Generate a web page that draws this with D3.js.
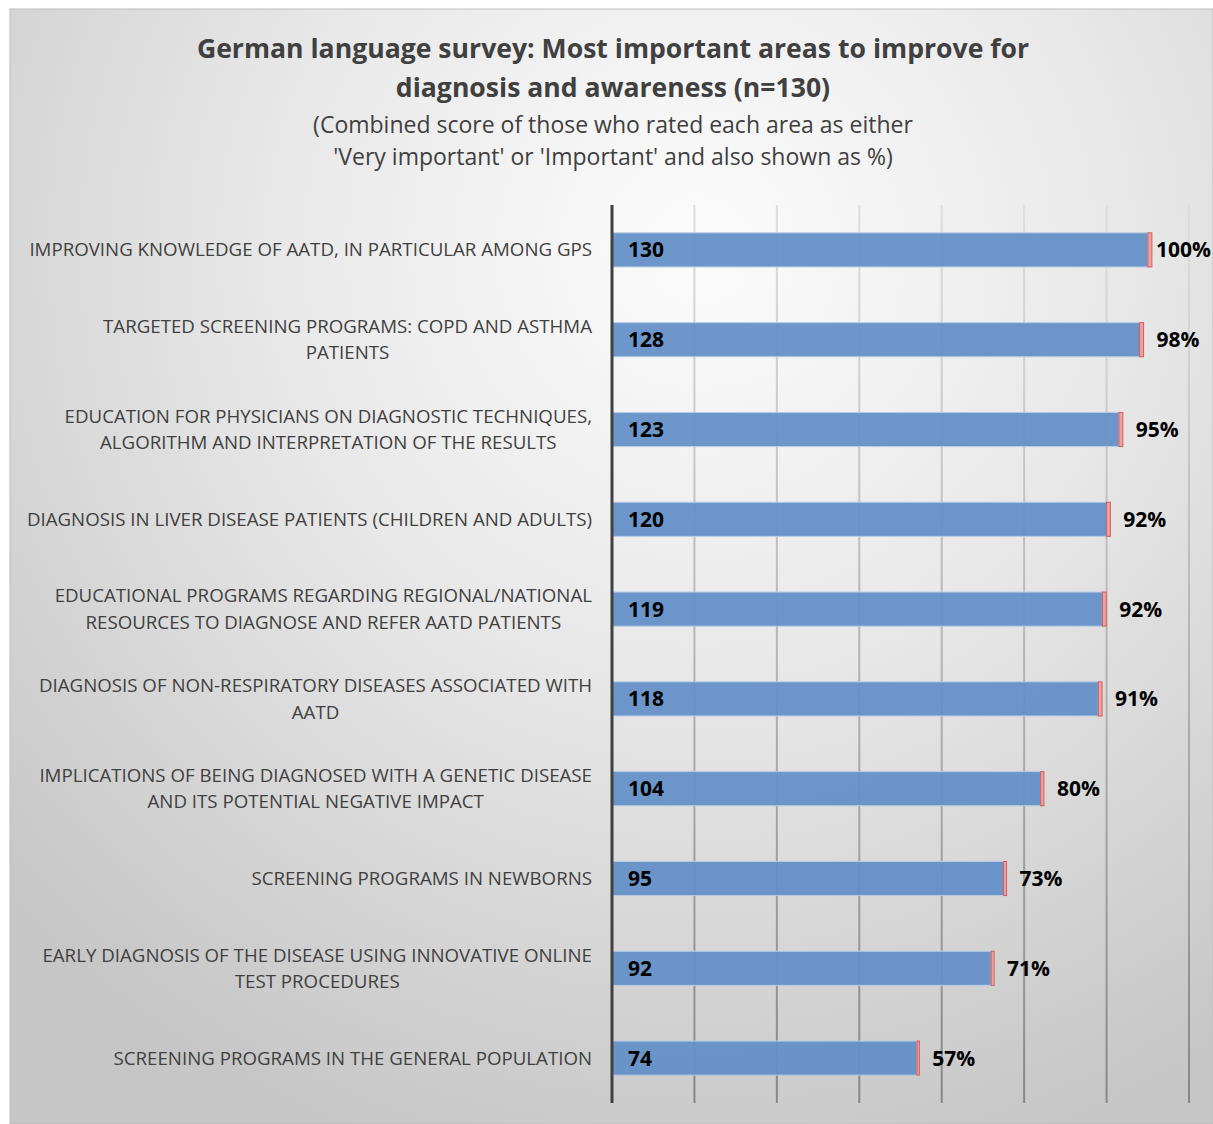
<!DOCTYPE html>
<html>
<head>
<meta charset="utf-8">
<script src="https://cdn.jsdelivr.net/npm/d3@7"></script>
<style>
  html, body { margin: 0; padding: 0; background: #ffffff; }
  svg { display: block; }
  text { font-family: "Open Sans", Lato, sans-serif; }
</style>
</head>
<body>
<svg id="chart" width="1213" height="1124"></svg>
<script>
// Survey areas (line breaks mark wrapped labels)
const categories = [
  "IMPROVING KNOWLEDGE OF AATD, IN PARTICULAR AMONG GPS",
  "TARGETED SCREENING PROGRAMS: COPD AND ASTHMA\nPATIENTS",
  "EDUCATION FOR PHYSICIANS ON DIAGNOSTIC TECHNIQUES,\nALGORITHM AND INTERPRETATION OF THE RESULTS",
  "DIAGNOSIS IN LIVER DISEASE PATIENTS (CHILDREN AND ADULTS)",
  "EDUCATIONAL PROGRAMS REGARDING REGIONAL/NATIONAL\nRESOURCES TO DIAGNOSE AND REFER AATD PATIENTS",
  "DIAGNOSIS OF NON-RESPIRATORY DISEASES ASSOCIATED WITH\nAATD",
  "IMPLICATIONS OF BEING DIAGNOSED WITH A GENETIC DISEASE\nAND ITS POTENTIAL NEGATIVE IMPACT",
  "SCREENING PROGRAMS IN NEWBORNS",
  "EARLY DIAGNOSIS OF THE DISEASE USING INNOVATIVE ONLINE\nTEST PROCEDURES",
  "SCREENING PROGRAMS IN THE GENERAL POPULATION"
];
// Respondents rating "Very important" or "Important"
const counts = [130, 128, 123, 120, 119, 118, 104, 95, 92, 74];
// Same score shown as percentage
const percents = [100, 98, 95, 92, 92, 91, 80, 73, 71, 57];
const xTicks = [0, 20, 40, 60, 80, 100, 120, 140];

const titleLines = [
  "German language survey: Most important areas to improve for",
  "diagnosis and awareness (n=130)"
];
const subtitleLines = [
  "(Combined score of those who rated each area as either",
  "'Very important' or 'Important' and also shown as %)"
];

const svg = d3.select("#chart");
const W = 1213, H = 1124;

const defs = svg.append("defs");
const bg = defs.append("radialGradient")
  .attr("id", "bg").attr("gradientUnits", "userSpaceOnUse")
  .attr("cx", 700).attr("cy", 250).attr("r", 950);
bg.append("stop").attr("offset", 0).attr("stop-color", "#fcfcfc");
bg.append("stop").attr("offset", 0.45).attr("stop-color", "#e8e8e8");
bg.append("stop").attr("offset", 1).attr("stop-color", "#c6c6c6");

const plot = { left: 612, right: 1189, top: 205, bottom: 1103 };

const grid = defs.append("linearGradient")
  .attr("id", "grid").attr("gradientUnits", "userSpaceOnUse")
  .attr("x1", 0).attr("y1", plot.top).attr("x2", 0).attr("y2", plot.bottom);
grid.append("stop").attr("offset", 0).attr("stop-color", "#dedede");
grid.append("stop").attr("offset", 0.5).attr("stop-color", "#b4b4b4");
grid.append("stop").attr("offset", 1).attr("stop-color", "#878787");

// Chart area background
svg.append("rect")
  .attr("x", 10).attr("y", 9).attr("width", W - 10).attr("height", H - 9)
  .attr("fill", "url(#bg)")
  .attr("stroke", "#bdbdbd").attr("stroke-width", 1);

// Title and subtitle
const cx = 613;
svg.append("g").selectAll("text").data(titleLines).join("text")
  .attr("x", cx).attr("y", (d, i) => 58 + i * 39)
  .attr("text-anchor", "middle")
  .attr("font-size", 26.6).attr("font-weight", "bold").attr("fill", "#404040")
  .text(d => d);
svg.append("g").selectAll("text").data(subtitleLines).join("text")
  .attr("x", cx).attr("y", (d, i) => 133 + i * 32)
  .attr("text-anchor", "middle")
  .attr("font-size", 23).attr("fill", "#404040")
  .text(d => d);

// Scales
const x = d3.scaleLinear().domain([0, 140]).range([plot.left, plot.right]);
const y = d3.scaleBand().domain(categories).range([plot.top, plot.bottom])
  .paddingInner(0.62).paddingOuter(0.31);

// Vertical gridlines
svg.append("g").selectAll("line").data(xTicks.filter(t => t > 0)).join("line")
  .attr("x1", d => x(d)).attr("x2", d => x(d))
  .attr("y1", plot.top).attr("y2", plot.bottom)
  .attr("stroke", "url(#grid)").attr("stroke-width", 2);

// Bars: count segment plus a thin percentage segment stacked on the end
const rows = categories.map((c, i) => ({ c, n: counts[i], p: percents[i] }));
const bars = svg.append("g");
bars.selectAll("rect.count").data(rows).join("rect")
  .attr("class", "count")
  .attr("x", x(0)).attr("y", d => y(d.c))
  .attr("width", d => x(d.n) - x(0)).attr("height", y.bandwidth())
  .attr("fill", "#6490c7").attr("fill-opacity", 0.94)
  .attr("stroke", "#b9cde6").attr("stroke-width", 1);
bars.selectAll("rect.pct").data(rows).join("rect")
  .attr("class", "pct")
  .attr("x", d => x(d.n)).attr("y", d => y(d.c))
  .attr("width", d => x(d.n + d.p / 100) - x(d.n)).attr("height", y.bandwidth())
  .attr("fill", "#e8a3a3")
  .attr("stroke", "#d75c5c").attr("stroke-width", 1);

// Value labels inside bars
svg.append("g").selectAll("text").data(rows).join("text")
  .attr("x", x(0) + 16).attr("y", d => y(d.c) + y.bandwidth() / 2 + 7.5)
  .attr("font-size", 21).attr("font-weight", "bold").attr("fill", "#000")
  .text(d => d.n);

// Percentage labels after the bars, kept inside the chart area
svg.append("g").selectAll("text").data(rows).join("text")
  .attr("y", d => y(d.c) + y.bandwidth() / 2 + 7.5)
  .attr("font-size", 21).attr("font-weight", "bold").attr("fill", "#000")
  .text(d => d.p + "%")
  .attr("x", function (d) {
    const w = this.getComputedTextLength();
    return Math.min(x(d.n + d.p / 100) + 13, W - 2 - w);
  });

// Category labels: centred block, right edge at the axis gap
const labelRight = 592;
const lg = svg.append("g");
rows.forEach(d => {
  const lines = d.c.split("\n");
  const cyy = y(d.c) + y.bandwidth() / 2;
  const lh = 26.5;
  const g = lg.append("g");
  const t = g.selectAll("text").data(lines).join("text")
    .attr("y", (l, i) => cyy + 6.5 + (i - (lines.length - 1) / 2) * lh)
    .attr("font-size", 18.7).attr("fill", "#404040")
    .attr("text-anchor", "middle")
    .text(l => l);
  let maxW = 0;
  t.each(function () { maxW = Math.max(maxW, this.getComputedTextLength()); });
  t.attr("x", labelRight - maxW / 2);
});

// Vertical axis line
svg.append("line")
  .attr("x1", x(0)).attr("x2", x(0))
  .attr("y1", plot.top).attr("y2", plot.bottom)
  .attr("stroke", "#404040").attr("stroke-width", 3);
</script>
</body>
</html>
